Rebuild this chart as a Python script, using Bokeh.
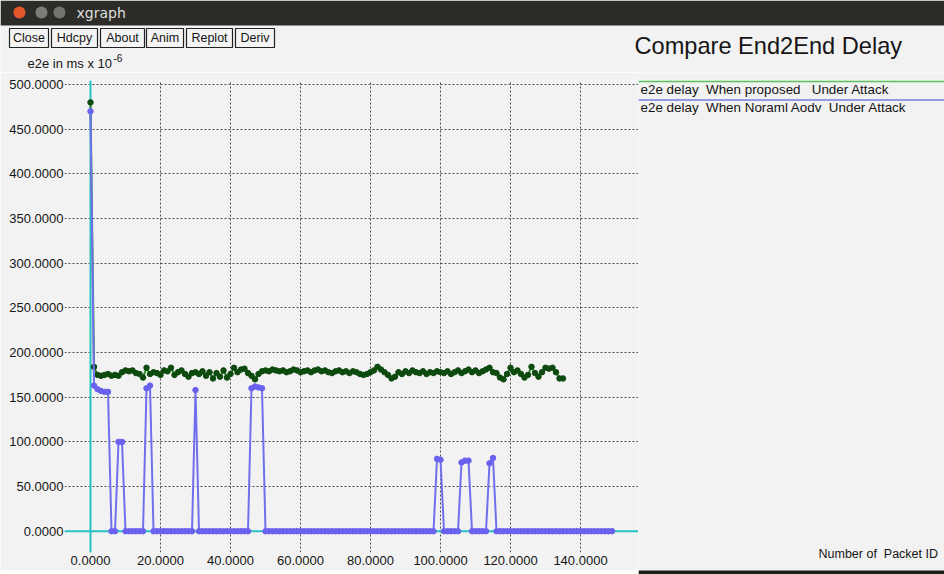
from bokeh.plotting import figure
from bokeh.layouts import column, row
from bokeh.models import Range1d, FixedTicker, PrintfTickFormatter, Span
from bokeh.core.properties import value
from bokeh.embed import file_html
from bokeh.resources import INLINE

# ---------------- data ----------------
x_ticks = [0, 20, 40, 60, 80, 100, 120, 140]
y_ticks = [0, 50, 100, 150, 200, 250, 300, 350, 400, 450, 500]

# e2e delay, proposed scheme under attack (packet id 0..135)
proposed_x = list(range(136))
proposed_y = [
    480, 184, 175, 174, 175, 176, 174, 175, 174, 178,
    180, 179, 180, 177, 176, 172, 183, 176, 178, 177,
    175, 180, 179, 183, 175, 178, 180, 176, 173, 177,
    178, 176, 179, 174, 178, 171, 177, 173, 180, 172,
    176, 183, 178, 181, 182, 177, 174, 170, 176, 179,
    180, 179, 181, 180, 179, 180, 178, 179, 181, 180,
    178, 179, 180, 178, 180, 181, 179, 180, 178, 177,
    179, 180, 178, 179, 177, 179, 178, 176, 175, 176,
    178, 180, 184, 181, 178, 175, 171, 173, 178, 176,
    179, 177, 180, 178, 177, 179, 176, 178, 177, 179,
    178, 177, 179, 176, 178, 180, 177, 179, 181, 178,
    180, 177, 179, 181, 183, 178, 177, 172, 170, 176,
    183, 178, 180, 176, 172, 175, 184, 177, 173, 178,
    183, 182, 183, 178, 171, 171,
]

# e2e delay, normal AODV under attack (packet id 0..149)
normal_x = list(range(150))
normal_y = [
    470, 163, 159, 157, 156, 156, 0, 0, 100, 100,
    0, 0, 0, 0, 0, 0, 160, 163, 0, 0,
    0, 0, 0, 0, 0, 0, 0, 0, 0, 0,
    158, 0, 0, 0, 0, 0, 0, 0, 0, 0,
    0, 0, 0, 0, 0, 0, 160, 162, 161, 160,
    0, 0, 0, 0, 0, 0, 0, 0, 0, 0,
    0, 0, 0, 0, 0, 0, 0, 0, 0, 0,
    0, 0, 0, 0, 0, 0, 0, 0, 0, 0,
    0, 0, 0, 0, 0, 0, 0, 0, 0, 0,
    0, 0, 0, 0, 0, 0, 0, 0, 0, 81,
    80, 0, 0, 0, 0, 0, 77, 79, 79, 0,
    0, 0, 0, 0, 76, 82, 0, 0, 0, 0,
    0, 0, 0, 0, 0, 0, 0, 0, 0, 0,
    0, 0, 0, 0, 0, 0, 0, 0, 0, 0,
    0, 0, 0, 0, 0, 0, 0, 0, 0, 0,
]

NB = "\u00a0"
title_text = "Compare End2End Delay"
legend_texts = ["e2e delay " + NB + "When proposed " + NB + NB + "Under Attack",
                "e2e delay " + NB + "When Noraml Aodv " + NB + "Under Attack"]
y_title = "e2e in ms x 10"
y_title_sup = "-6"
x_title = "Number of " + NB + "Packet ID"
window_title = "xgraph"
buttons = ["Close", "Hdcpy", "About", "Anim", "Replot", "Deriv"]

# ---------------- layout (canvas px = reference px) ----------------
W, H = 944, 574
TOP_H = 72          # window bar, buttons, title, y-axis title strip
BOT_H = 4           # dark bottom window edge
MAIN_W = 638        # plot frame ends at x = 638
MAIN_H = H - TOP_H - BOT_H
RIGHT_W = W - MAIN_W
BG = "#f2f2f2"
DARK = "#2d2c28"
EDGE = "#1b1b1b"
FONT = "Liberation Sans"
GREEN_LINE, GREEN_DOT = "#2c862c", "#0d4a0d"
BLUE_LINE, BLUE_DOT = "#7070ee", "#6a62ee"


def chrome_fig(w, h, x0, y0, bg=BG):
    f = figure(width=w, height=h, output_backend="svg", toolbar_location=None,
               x_range=Range1d(x0, x0 + w), y_range=Range1d(y0 + h, y0),
               x_axis_type=None, y_axis_type=None,
               min_border_left=0, min_border_right=0, min_border_top=0, min_border_bottom=0,
               background_fill_color=bg, border_fill_color=bg, outline_line_color=None)
    return f


def txt(f, X, Y, s, size, color="#151515", font=FONT, align="left"):
    f.text(x=[X], y=[Y], text=[s], text_font=value(font),
           text_font_size=value(f"{size}px"), text_color=color,
           text_align=value(align), text_baseline=value("middle"))


def rect(f, x0, y0, x1, y1, fill, line=None, lw=1):
    f.quad(left=[x0], right=[x1], top=[y0], bottom=[y1],
           fill_color=fill, line_color=line, line_width=lw)


# ---- top strip: window bar, buttons, title, y-axis title ----
top = chrome_fig(W, TOP_H, 0, 0)
rect(top, 0, 0, W, 25, DARK)
top.circle(x=[19, 41, 59], y=[12, 12, 12], radius=6,
           fill_color=["#e4552c", "#7d7c78", "#74736f"], line_color=None)
txt(top, 76, 12.5, window_title, 14, color="#dedede", font="DejaVu Sans")
btn_x = [(9, 48), (51, 97), (100, 144), (146, 183), (186, 232), (235, 274)]
for (a, b), t in zip(btn_x, buttons):
    rect(top, a, 28, b, 47, "#f4f4f4", line="#222222", lw=1.2)
    txt(top, (a + b) / 2, 37.5, t, 12.5, align="center")
txt(top, 634, 45, title_text, 23.6)
txt(top, 27, 63, y_title, 13)
txt(top, 113, 57, y_title_sup, 10)

# ---- main plot (frame: x 64..638, y 80..552) ----
p = figure(width=MAIN_W, height=MAIN_H, output_backend="svg", toolbar_location=None,
           x_range=Range1d(-7.43, 156.57), y_range=Range1d(-23.8, 504.5),
           min_border_left=64, min_border_right=0,
           min_border_top=80 - TOP_H, min_border_bottom=(TOP_H + MAIN_H) - 552,
           background_fill_color=BG, border_fill_color=BG, outline_line_color=None)

p.xaxis.ticker = FixedTicker(ticks=x_ticks)
p.yaxis.ticker = FixedTicker(ticks=y_ticks)
p.xaxis.formatter = PrintfTickFormatter(format="%.4f")
p.yaxis.formatter = PrintfTickFormatter(format="%.4f")
for ax in (p.xaxis, p.yaxis):
    ax.axis_line_color = None
    ax.major_tick_line_color = None
    ax.minor_tick_line_color = None
    ax.major_tick_out = 0
    ax.major_tick_in = 0
    ax.minor_tick_out = 0
    ax.minor_tick_in = 0
    ax.major_label_text_font = FONT
    ax.major_label_text_font_size = "13px"
    ax.major_label_text_color = "#151515"
p.yaxis.major_label_standoff = 1
p.xaxis.major_label_standoff = 3

p.grid.grid_line_color = "#3a3a3a"
p.grid.grid_line_dash = "2 2"
p.grid.grid_line_width = 1
p.grid.grid_line_alpha = 0.9

p.add_layout(Span(location=0, dimension="width", line_color="#27c2c2", line_width=2, level="underlay"))
p.add_layout(Span(location=0, dimension="height", line_color="#27c2c2", line_width=2, level="underlay"))

p.line(proposed_x, proposed_y, line_color=GREEN_LINE, line_width=2)
p.scatter(proposed_x, proposed_y, size=5.5, fill_color=GREEN_DOT, line_color=GREEN_DOT)
p.line(normal_x, normal_y, line_color=BLUE_LINE, line_width=2)
p.scatter(normal_x, normal_y, size=5.5, fill_color=BLUE_DOT, line_color=BLUE_DOT)

# ---- bottom-left window edge ----
bottom = chrome_fig(MAIN_W, BOT_H, 0, H - BOT_H, bg=EDGE)

# ---- right part: legend and x-axis title ----
right = chrome_fig(RIGHT_W, H - TOP_H, MAIN_W, TOP_H)
right.segment(x0=[638, 638], x1=[W, W], y0=[81, 99.5], y1=[81, 99.5],
              line_color=["#5cc25c", "#7a7ae6"], line_width=1.6)
txt(right, 640, 88.5, legend_texts[0], 13.4)
txt(right, 640, 107, legend_texts[1], 13.4)
txt(right, 818, 553, x_title, 12.5)
rect(right, MAIN_W, H - BOT_H, W, H, EDGE)

layout = column(top, row(column(p, bottom), right))
open("out.html", "w").write(file_html(layout, INLINE))
